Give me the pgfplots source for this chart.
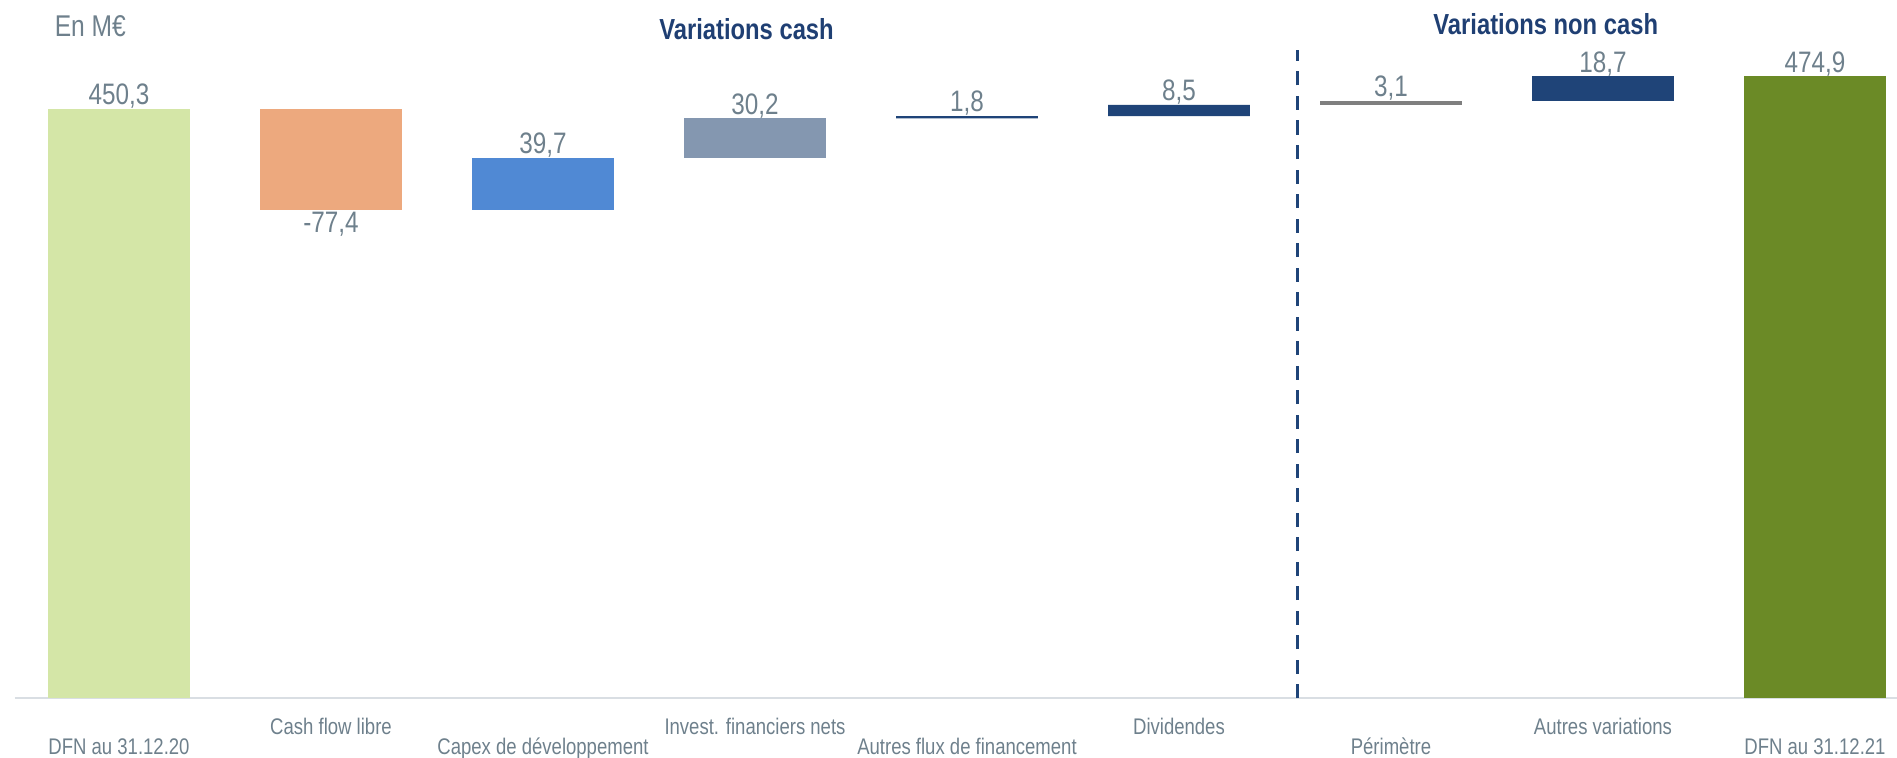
\documentclass[border=0pt]{standalone}
\usepackage{fontspec}
\setmainfont{Liberation Sans}[FakeStretch=0.82]
\usepackage{pgfplots}
\pgfplotsset{compat=1.18}
\definecolor{cLight}{HTML}{D4E6A7}
\definecolor{cOrange}{HTML}{EDA97E}
\definecolor{cBlue}{HTML}{5089D4}
\definecolor{cGrayBlue}{HTML}{8497B0}
\definecolor{cNavy}{HTML}{1F4478}
\definecolor{cGray}{HTML}{7F7F7F}
\definecolor{cOlive}{HTML}{6B8A26}
\definecolor{cText}{HTML}{6E808C}
\definecolor{cTitle}{HTML}{1F3F73}
\definecolor{cAxis}{HTML}{D9DEE3}
\tikzset{lbl/.style={font=\fontsize{14.8pt}{17pt}\selectfont, text=cText, inner sep=0pt, anchor=base, yshift=2.2pt}}
\begin{document}
\begin{tikzpicture}
\begin{axis}[name=ax,
  width=941.25pt, height=349pt, scale only axis,
  xmin=-0.493, xmax=8.387, ymin=0, ymax=533.3,
  clip=false,
  axis y line=none, axis x line=bottom,
  x axis line style={draw=cAxis, line width=1pt, -},
  xtick style={draw=none},
  ytick=\empty,
  ybar stacked, bar width=70.8pt,
  xtick={0,2,4,6,8},
  xticklabels={DFN au 31.12.20, Capex de développement, Autres flux de financement, Périmètre, DFN au 31.12.21},
  xticklabel style={font=\fontsize{11.3pt}{13pt}\selectfont, text=cText, anchor=center, yshift=-22.5pt, text height=1.6ex, text depth=0.3ex},
  extra x ticks={1,3,5,7},
  extra x tick labels={Cash flow libre, Invest. financiers nets, Dividendes, Autres variations},
  extra x tick style={xticklabel style={yshift=10pt}, tick style={draw=none}},
]
% invisible base
\addplot[draw=none, fill=none] coordinates {(0,0) (1,372.9) (2,372.9) (3,412.6) (4,442.8) (5,444.6) (6,453.1) (7,456.2) (8,0)};
\addplot[draw=none, fill=cLight] coordinates {(0,450.3) (1,0) (2,0) (3,0) (4,0) (5,0) (6,0) (7,0) (8,0)};
\addplot[draw=none, fill=cOrange] coordinates {(0,0) (1,77.4) (2,0) (3,0) (4,0) (5,0) (6,0) (7,0) (8,0)};
\addplot[draw=none, fill=cBlue] coordinates {(0,0) (1,0) (2,39.7) (3,0) (4,0) (5,0) (6,0) (7,0) (8,0)};
\addplot[draw=none, fill=cGrayBlue] coordinates {(0,0) (1,0) (2,0) (3,30.2) (4,0) (5,0) (6,0) (7,0) (8,0)};
\addplot[draw=none, fill=cNavy] coordinates {(0,0) (1,0) (2,0) (3,0) (4,1.8) (5,8.5) (6,0) (7,0) (8,0)};
\addplot[draw=none, fill=cGray] coordinates {(0,0) (1,0) (2,0) (3,0) (4,0) (5,0) (6,3.1) (7,0) (8,0)};
\addplot[draw=none, fill=cNavy] coordinates {(0,0) (1,0) (2,0) (3,0) (4,0) (5,0) (6,0) (7,18.7) (8,0)};
\addplot[draw=none, fill=cOlive] coordinates {(0,0) (1,0) (2,0) (3,0) (4,0) (5,0) (6,0) (7,0) (8,474.9)};
% labels
\node[lbl] at (axis cs:0,450.3) {450,3};
\node[lbl, anchor=north, yshift=-3pt] at (axis cs:1,372.9) {-77,4};
\node[lbl] at (axis cs:2,412.6) {39,7};
\node[lbl] at (axis cs:3,442.8) {30,2};
\node[lbl] at (axis cs:4,444.6) {1,8};
\node[lbl] at (axis cs:5,453.1) {8,5};
\node[lbl] at (axis cs:6,456.2) {3,1};
\node[lbl] at (axis cs:7,474.9) {18,7};
\node[lbl] at (axis cs:8,474.9) {474,9};
% separator
\draw[cNavy, line width=1.7pt, dash pattern=on 7pt off 5.25pt] (axis cs:5.56,0) -- (axis cs:5.56,495);
% titles
\node[font=\bfseries\fontsize{14.5pt}{16pt}\selectfont, text=cTitle] at (axis cs:2.96,511.1) {Variations cash};
\node[font=\bfseries\fontsize{14.5pt}{16pt}\selectfont, text=cTitle] at (axis cs:6.73,514.8) {Variations non cash};
\node[font=\fontsize{15pt}{17pt}\selectfont, text=cText, anchor=west, inner sep=0pt] at (axis cs:-0.305,513) {En M€};
\end{axis}
\pgfresetboundingbox
\path[use as bounding box] ([xshift=-7.25pt,yshift=-29.5pt]ax.south west) rectangle (ax.north east);
\end{tikzpicture}
\end{document}
